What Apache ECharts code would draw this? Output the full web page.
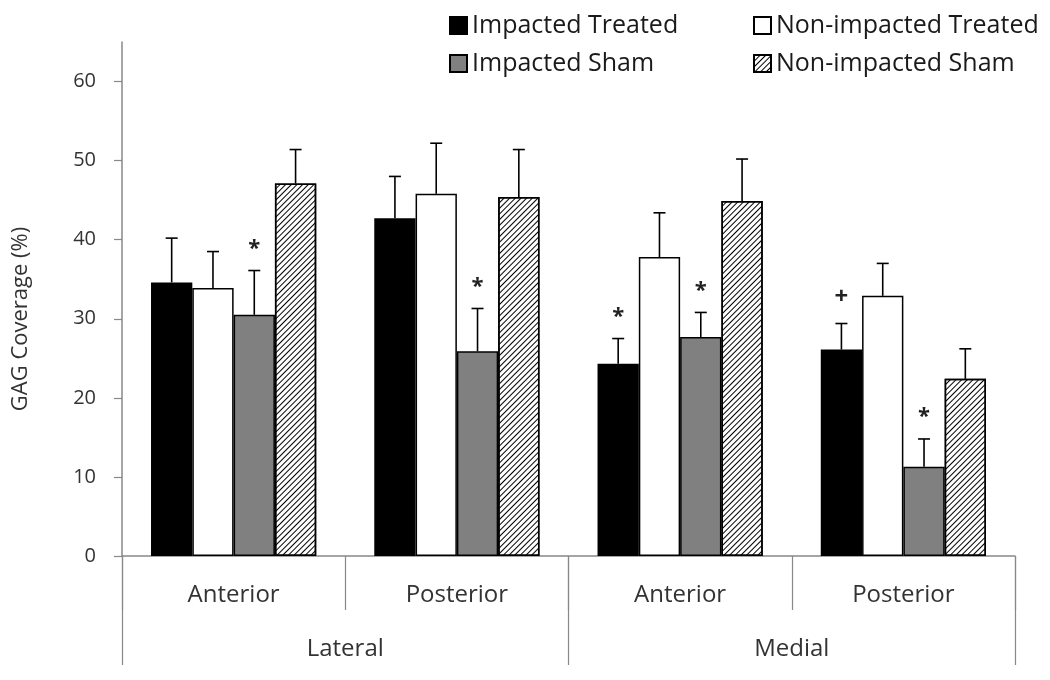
<!DOCTYPE html>
<html><head><meta charset="utf-8">
<script src="https://cdn.jsdelivr.net/npm/echarts@6/dist/echarts.min.js"></script>
<style>html,body{margin:0;padding:0;background:#fff}#c{width:1050px;height:680px}</style>
</head><body><div id="c"></div>
<script>
const categories = ['Anterior', 'Posterior', 'Anterior', 'Posterior'];
const regions = ['Lateral', 'Medial'];
const seriesNames = ['Impacted Treated', 'Non-impacted Treated', 'Impacted Sham', 'Non-impacted Sham'];
const impactedTreated = [34.6, 42.7, 24.3, 26.1];
const impactedTreatedErr = [5.6, 5.3, 3.2, 3.3];
const nonImpactedTreated = [33.9, 45.8, 37.8, 32.9];
const nonImpactedTreatedErr = [4.6, 6.4, 5.6, 4.1];
const impactedSham = [30.5, 25.9, 27.7, 11.3];
const impactedShamErr = [5.6, 5.4, 3.1, 3.5];
const nonImpactedSham = [47.1, 45.4, 44.9, 22.4];
const nonImpactedShamErr = [4.3, 6.0, 5.3, 3.8];
const impactedTreatedMarks = ['', '', '*', '+'];
const nonImpactedTreatedMarks = ['', '', '', ''];
const impactedShamMarks = ['*', '*', '*', '*'];
const nonImpactedShamMarks = ['', '', '', ''];
const yTicks = [0, 10, 20, 30, 40, 50, 60];

const values = [impactedTreated, nonImpactedTreated, impactedSham, nonImpactedSham];
const errs = [impactedTreatedErr, nonImpactedTreatedErr, impactedShamErr, nonImpactedShamErr];
const marks = [impactedTreatedMarks, nonImpactedTreatedMarks, impactedShamMarks, nonImpactedShamMarks];

const GAP = 0.26;
const FONT = "'Open Sans', 'Noto Sans', sans-serif";

const errData = [];
const errMarks = [];
values.forEach((arr, s) => arr.forEach((v, c) => {
  errData.push([c, s, v, errs[s][c]]);
  errMarks.push(marks[s][c]);
}));

function renderErr(params, api) {
  const c = api.value(0), s = api.value(1), v = api.value(2), e = api.value(3);
  const base = api.coord([c, v]);
  const top = api.coord([c, v + e]);
  const catW = api.size([1, 0])[0];
  const band = catW * (1 - GAP);
  const bw = band / 4;
  const x = base[0] - band / 2 + bw * (s + 0.5);
  const capHalf = 6;
  const children = [
    { type: 'line', shape: { x1: x, y1: base[1], x2: x, y2: top[1] }, style: { stroke: '#000', lineWidth: 1.6 } },
    { type: 'line', shape: { x1: x - capHalf, y1: top[1], x2: x + capHalf, y2: top[1] }, style: { stroke: '#000', lineWidth: 1.6 } }
  ];
  const m = errMarks[params.dataIndex];
  if (m) {
    children.push({ type: 'text', style: { text: m, x: x, y: top[1] - (m === '*' ? 22 : 26), align: 'center', verticalAlign: 'middle', fontSize: m === '*' ? 22 : 24, fontWeight: 'bold', fill: '#222', fontFamily: FONT } });
  }
  return { type: 'group', children: children };
}

const barColors = ['#000000', '#ffffff', '#808080', '#ffffff'];
const barSeries = values.map((arr, s) => ({
  name: seriesNames[s],
  type: 'bar',
  xAxisIndex: 0,
  data: arr,
  barGap: '0%',
  barCategoryGap: (GAP * 100) + '%',
  itemStyle: Object.assign({ color: barColors[s], borderColor: '#000', borderWidth: 1.5 },
    s === 3 ? { decal: { symbol: 'rect', symbolSize: 1, dashArrayX: [1, 0], dashArrayY: [1, 2.4], rotation: -Math.PI / 4, color: '#000' } } : {}),
  emphasis: { disabled: true },
  z: 2
}));

const legendText = { fontSize: 25, color: '#1a1a1a', fontFamily: FONT };
const chart = echarts.init(document.getElementById('c'), null, { renderer: 'canvas' });
chart.setOption({
  animation: false,
  backgroundColor: '#fff',
  grid: { left: 122, right: 35, top: 42, bottom: 124, containLabel: false },
  legend: [
    { data: [seriesNames[0], seriesNames[2]], orient: 'vertical', left: 449, top: 13, padding: 0, itemWidth: 17, itemHeight: 17, itemGap: 13, icon: 'rect',
      textStyle: legendText, selectedMode: false },
    { data: [seriesNames[1], seriesNames[3]], orient: 'vertical', left: 753, top: 13, padding: 0, itemWidth: 17, itemHeight: 17, itemGap: 13, icon: 'rect',
      textStyle: legendText, selectedMode: false }
  ],
  xAxis: [
    { type: 'category', data: categories, position: 'bottom',
      axisLine: { show: true, lineStyle: { color: '#888', width: 1.5 } },
      axisTick: { show: true, length: 54, interval: 0, lineStyle: { color: '#888', width: 1.2 } },
      axisLabel: { margin: 27, fontSize: 24, color: '#333', fontFamily: FONT, interval: 0 } },
    { type: 'category', data: regions, position: 'bottom', offset: 0,
      axisLine: { show: false },
      axisTick: { show: true, length: 109, interval: 0, lineStyle: { color: '#888', width: 1.2 } },
      axisLabel: { margin: 81, fontSize: 24, color: '#333', fontFamily: FONT, interval: 0 } }
  ],
  yAxis: {
    type: 'value', min: 0, max: 65, interval: 10,
    name: 'GAG Coverage (%)', nameLocation: 'middle', nameGap: 90, nameRotate: 90,
    nameTextStyle: { fontSize: 22, color: '#333', fontFamily: FONT, padding: [0, 40, 0, 0] },
    axisLine: { show: true, lineStyle: { color: '#888', width: 1.5 } },
    axisTick: { show: true, length: 8, customValues: yTicks, lineStyle: { color: '#888', width: 1.2 } },
    axisLabel: { margin: 26, fontSize: 20, color: '#333', fontFamily: FONT, customValues: yTicks },
    splitLine: { show: false }
  },
  series: barSeries.concat([{
    type: 'custom', name: 'err', xAxisIndex: 0, renderItem: renderErr, data: errData, z: 5,
    encode: { x: 0, y: [2, 3] }, silent: true
  }])
});
</script></body></html>
